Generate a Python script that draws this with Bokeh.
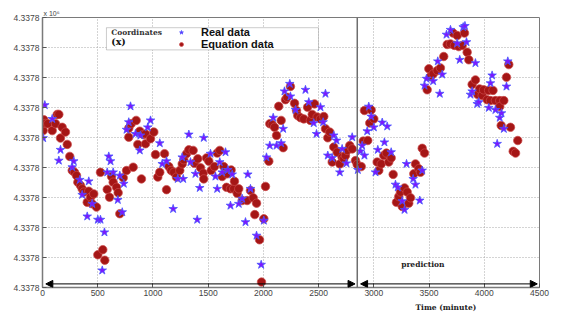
from bokeh.plotting import figure
from bokeh.models import (Span, Arrow, NormalHead, Label, Legend, LegendItem,
                          BoxAnnotation, FixedTicker, Title)
from bokeh.embed import file_html
from bokeh.resources import INLINE

# ---------------- data (time in minutes, value in y-tick units; every tick reads 4.3378 x10^6)
x_ticks = [0, 500, 1000, 1500, 2000, 2500, 3000, 3500, 4000, 4500]
y_ticks = [0, 1, 2, 3, 4, 5, 6, 7, 8, 9]
y_tick_label = "4.3378"
split_time = 2850

equation_time = [6, 12, 27, 48, 88, 118, 133, 148, 163, 178, 208, 224, 247, 269, 290, 308, 320, 344, 359, 374,
                 405, 419, 435, 450, 464, 489, 501, 525, 546, 564, 586, 607, 625, 640, 670, 685, 700, 731, 761, 781,
                 781, 803, 821, 848, 863, 881, 896, 912, 933, 933, 978, 1008, 1023, 1044, 1062, 1105, 1123, 1144, 1165, 1189,
                 1213, 1243, 1265, 1279, 1304, 1325, 1364, 1376, 1406, 1431, 1455, 1460, 1485, 1506, 1527, 1557, 1582, 1605, 1627, 1641,
                 1666, 1672, 1702, 1708, 1732, 1738, 1763, 1777, 1808, 1853, 1883, 1908, 1922, 1938, 1965, 1983, 2004, 2019, 2049, 2058,
                 2080, 2101, 2119, 2139, 2161, 2179, 2200, 2215, 2245, 2282, 2300, 2311, 2336, 2366, 2400, 2426, 2442, 2463, 2487, 2517,
                 2547, 2562, 2583, 2601, 2623, 2637, 2668, 2692, 2713, 2728, 2743, 2759, 2782, 2804, 2834, 2849, 2886, 2904, 2915, 2945,
                 2963, 2976, 3000, 3030, 3045, 3067, 3090, 3114, 3135, 3157, 3175, 3205, 3226, 3241, 3257, 3278, 3302, 3316, 3332, 3362,
                 3377, 3407, 3422, 3438, 3459, 3483, 3498, 3513, 3537, 3574, 3603, 3633, 3664, 3694, 3718, 3730, 3755, 3769, 3800, 3821,
                 3845, 3860, 3890, 3920, 3941, 3957, 3981, 3994, 4026, 4039, 4056, 4079, 4101, 4140, 4140, 4153, 4177, 4201, 4222, 4237,
                 4262, 4283, 4303]
equation_value = [5.23, 5.59, 5.47, 5.46, 5.23, 5.46, 5.77, 5.77, 4.98, 5.34, 5.18, 4.77, 4.37, 3.90, 3.84, 3.73, 3.51, 3.40, 3.29, 3.18,
                  2.84, 3.21, 3.01, 2.79, 3.12, 2.68, 1.09, 3.84, 1.26, 0.91, 3.27, 3.01, 3.70, 3.51, 3.34, 3.16, 2.46, 3.66, 3.90, 5.31,
                  5.01, 5.46, 4.01, 5.57, 4.77, 5.21, 3.62, 5.10, 5.12, 4.79, 4.96, 5.18, 4.43, 3.68, 3.84, 4.46, 3.26, 4.03, 3.90, 3.84,
                  3.68, 3.90, 4.12, 4.26, 4.46, 4.59, 4.57, 4.14, 4.29, 3.99, 3.81, 3.62, 4.32, 4.21, 3.90, 4.03, 4.48, 4.57, 3.70, 4.03,
                  3.34, 3.79, 3.29, 3.92, 3.29, 3.54, 3.14, 3.29, 2.90, 2.90, 3.23, 2.99, 2.43, 2.81, 1.59, 0.18, 2.29, 3.37, 4.21, 5.46,
                  5.43, 5.34, 5.07, 6.04, 5.57, 4.66, 6.26, 6.34, 6.70, 6.14, 5.90, 5.73, 5.66, 5.62, 6.01, 5.57, 5.77, 6.12, 5.68, 5.62,
                  5.70, 5.29, 4.99, 5.18, 4.18, 4.68, 4.51, 4.12, 4.34, 4.29, 4.40, 4.57, 4.73, 4.62, 4.23, 4.10, 4.03, 4.88, 5.90, 4.90,
                  5.48, 5.92, 5.62, 4.18, 3.90, 4.12, 4.40, 4.48, 4.18, 4.32, 3.77, 2.84, 3.03, 3.18, 2.70, 3.32, 3.18, 2.81, 2.99, 3.79,
                  4.12, 3.96, 3.84, 4.64, 4.48, 6.59, 7.29, 7.03, 7.12, 7.23, 7.32, 7.70, 8.10, 8.12, 8.48, 8.07, 8.40, 8.03, 8.07, 8.48,
                  7.84, 7.59, 6.77, 6.92, 6.43, 6.62, 6.40, 6.59, 6.26, 6.57, 6.23, 6.57, 6.23, 6.23, 6.03, 5.40, 6.23, 7.01, 7.43, 5.34,
                  4.54, 4.48, 4.90]

real_time = [6, 21, 88, 148, 163, 269, 283, 338, 359, 405, 419, 450, 501, 525, 541, 561, 586, 600, 616, 640,
             682, 700, 722, 736, 761, 781, 797, 842, 881, 887, 953, 978, 1062, 1084, 1123, 1183, 1225, 1265, 1274, 1325,
             1340, 1385, 1401, 1424, 1460, 1521, 1566, 1582, 1605, 1627, 1657, 1678, 1702, 1718, 1777, 1808, 1838, 1859, 1883, 1938,
             1980, 2004, 2028, 2058, 2089, 2119, 2161, 2179, 2191, 2239, 2245, 2291, 2381, 2411, 2456, 2481, 2517, 2541, 2562, 2583,
             2623, 2637, 2662, 2692, 2713, 2752, 2804, 2855, 2879, 2894, 2915, 2940, 2954, 2976, 3000, 3015, 3036, 3076, 3096, 3121,
             3157, 3196, 3217, 3257, 3278, 3296, 3356, 3377, 3416, 3438, 3459, 3477, 3537, 3579, 3597, 3619, 3658, 3694, 3755, 3778,
             3809, 3825, 3839, 3875, 3890, 3920, 3936, 3950, 4041, 4056, 4071, 4101, 4117, 4140, 4156, 4177, 4201, 4213]
real_value = [4.98, 6.08, 5.62, 4.23, 4.59, 4.01, 4.21, 3.59, 3.09, 2.37, 3.54, 2.79, 2.26, 2.26, 0.57, 1.84, 3.84, 4.37, 4.21, 3.84,
              2.92, 3.73, 2.51, 3.46, 5.26, 5.51, 6.04, 5.12, 4.57, 5.07, 5.34, 5.57, 4.81, 4.12, 4.21, 2.62, 3.62, 4.34, 3.62, 5.10,
              4.18, 3.79, 2.26, 3.32, 4.99, 4.46, 3.70, 3.29, 4.18, 3.84, 4.51, 3.92, 2.73, 3.77, 2.79, 2.96, 2.18, 3.77, 3.29, 1.73,
              0.76, 2.23, 4.34, 4.73, 5.66, 4.73, 4.81, 5.29, 6.54, 6.79, 6.37, 5.92, 6.59, 6.18, 5.48, 5.12, 6.01, 5.51, 6.46, 4.40,
              4.32, 5.07, 4.90, 3.84, 4.62, 4.14, 5.01, 3.92, 4.54, 4.73, 4.40, 5.21, 6.03, 5.70, 5.34, 3.84, 4.59, 5.50, 4.84, 5.37,
              4.51, 3.43, 3.34, 2.88, 2.59, 4.12, 3.62, 3.43, 2.90, 3.90, 6.73, 6.96, 6.88, 7.54, 6.46, 7.10, 8.43, 8.59, 8.14, 7.59,
              8.68, 8.72, 8.18, 6.43, 6.54, 7.48, 6.12, 6.18, 5.99, 6.81, 7.07, 5.92, 4.79, 5.66, 5.81, 5.29, 6.70, 7.54]

# ---------------- figure
p = figure(width=575, height=315, x_range=(0, 4500), y_range=(0, 9),
           output_backend="svg", toolbar_location=None,
           min_border_left=42, min_border_right=36, min_border_top=17, min_border_bottom=28)
p.background_fill_color = "white"
p.border_fill_color = "white"
p.outline_line_color = "#7a7a7a"
p.outline_line_width = 1

for ax in (p.xaxis[0], p.yaxis[0]):
    ax.major_label_text_font = "Liberation Sans"
    ax.major_label_text_font_size = "8.5px"
    ax.major_label_text_color = "#444444"
    ax.axis_line_color = "#7a7a7a"
    ax.axis_line_width = 1.5
    ax.major_tick_in = 4
    ax.major_tick_out = 0
    ax.major_tick_line_color = "#555555"
    ax.minor_tick_line_color = None
    ax.major_label_standoff = 3
p.xaxis.major_label_standoff = 2
p.xaxis.ticker = FixedTicker(ticks=x_ticks)
p.yaxis.ticker = FixedTicker(ticks=y_ticks)
p.yaxis.major_label_overrides = {t: y_tick_label for t in y_ticks}

p.xgrid.ticker = FixedTicker(ticks=x_ticks)
p.ygrid.ticker = FixedTicker(ticks=y_ticks)
for g in (p.xgrid[0], p.ygrid[0]):
    g.grid_line_color = "#a8a8a8"
    g.grid_line_dash = "1 2"
    g.grid_line_width = 1

# ---------------- data marks
eq = p.scatter(equation_time, equation_value, marker="circle", size=8.5,
               fill_color="#a51616", line_color="#cc4a4a", line_alpha=0.7, line_width=1)
rd = p.scatter(real_time, real_value, marker="star", size=9,
               fill_color="#7d16ff", line_color="#4a55ff", line_alpha=0.8, line_width=1)

# divider and arrows
p.add_layout(Span(location=split_time, dimension="height", line_color="#6e6e6e", line_width=1.5))
p.add_layout(Arrow(x_start=30, x_end=split_time - 20, y_start=0.12, y_end=0.12,
                   line_color="black", line_width=1,
                   start=NormalHead(size=7, fill_color="black", line_color="black"),
                   end=NormalHead(size=7, fill_color="black", line_color="black")))
p.add_layout(Arrow(x_start=split_time + 30, x_end=4480, y_start=0.12, y_end=0.12,
                   line_color="black", line_width=1,
                   start=NormalHead(size=7, fill_color="black", line_color="black"),
                   end=NormalHead(size=7, fill_color="black", line_color="black")))

p.add_layout(Label(x=3444, y=0.62, text="prediction", text_align="center",
                   text_font="DejaVu Serif", text_font_style="bold", text_font_size="7.5px",
                   text_color="#222222"))

# legend box
p.add_layout(BoxAnnotation(left=579, right=2499, bottom=7.92, top=8.66,
                           fill_color="white", fill_alpha=1, line_color="#555555", line_width=1))
p.add_layout(Label(x=622, y=8.35, text="Coordinates", text_font="DejaVu Serif",
                   text_font_style="bold", text_font_size="7.5px", text_color="#333333"))
p.add_layout(Label(x=622, y=8.03, text="(x)", text_font="DejaVu Serif",
                   text_font_style="bold", text_font_size="9.5px", text_color="#111111"))
legend = Legend(items=[LegendItem(label="Real data", renderers=[rd]),
                       LegendItem(label="Equation data", renderers=[eq])],
                location=(134, 237), border_line_color=None, background_fill_alpha=0,
                label_text_font="Liberation Sans", label_text_font_style="bold",
                label_text_font_size="11px", label_text_color="#111111",
                glyph_width=10, glyph_height=10, label_height=10, spacing=-4,
                padding=0, margin=0, label_standoff=15)
p.add_layout(legend)

# axis-scale note and x label
p.add_layout(Title(text="x 10\u2076", align="left", offset=1, standoff=2,
                   text_font="Liberation Sans", text_font_size="7px",
                   text_font_style="normal", text_color="#444444"), "above")
p.add_layout(Title(text="Time (minute)", align="left", offset=373, standoff=4,
                   text_font="DejaVu Serif", text_font_size="7.5px",
                   text_font_style="bold", text_color="#222222"), "below")

open("out.html", "w").write(file_html(p, INLINE))
